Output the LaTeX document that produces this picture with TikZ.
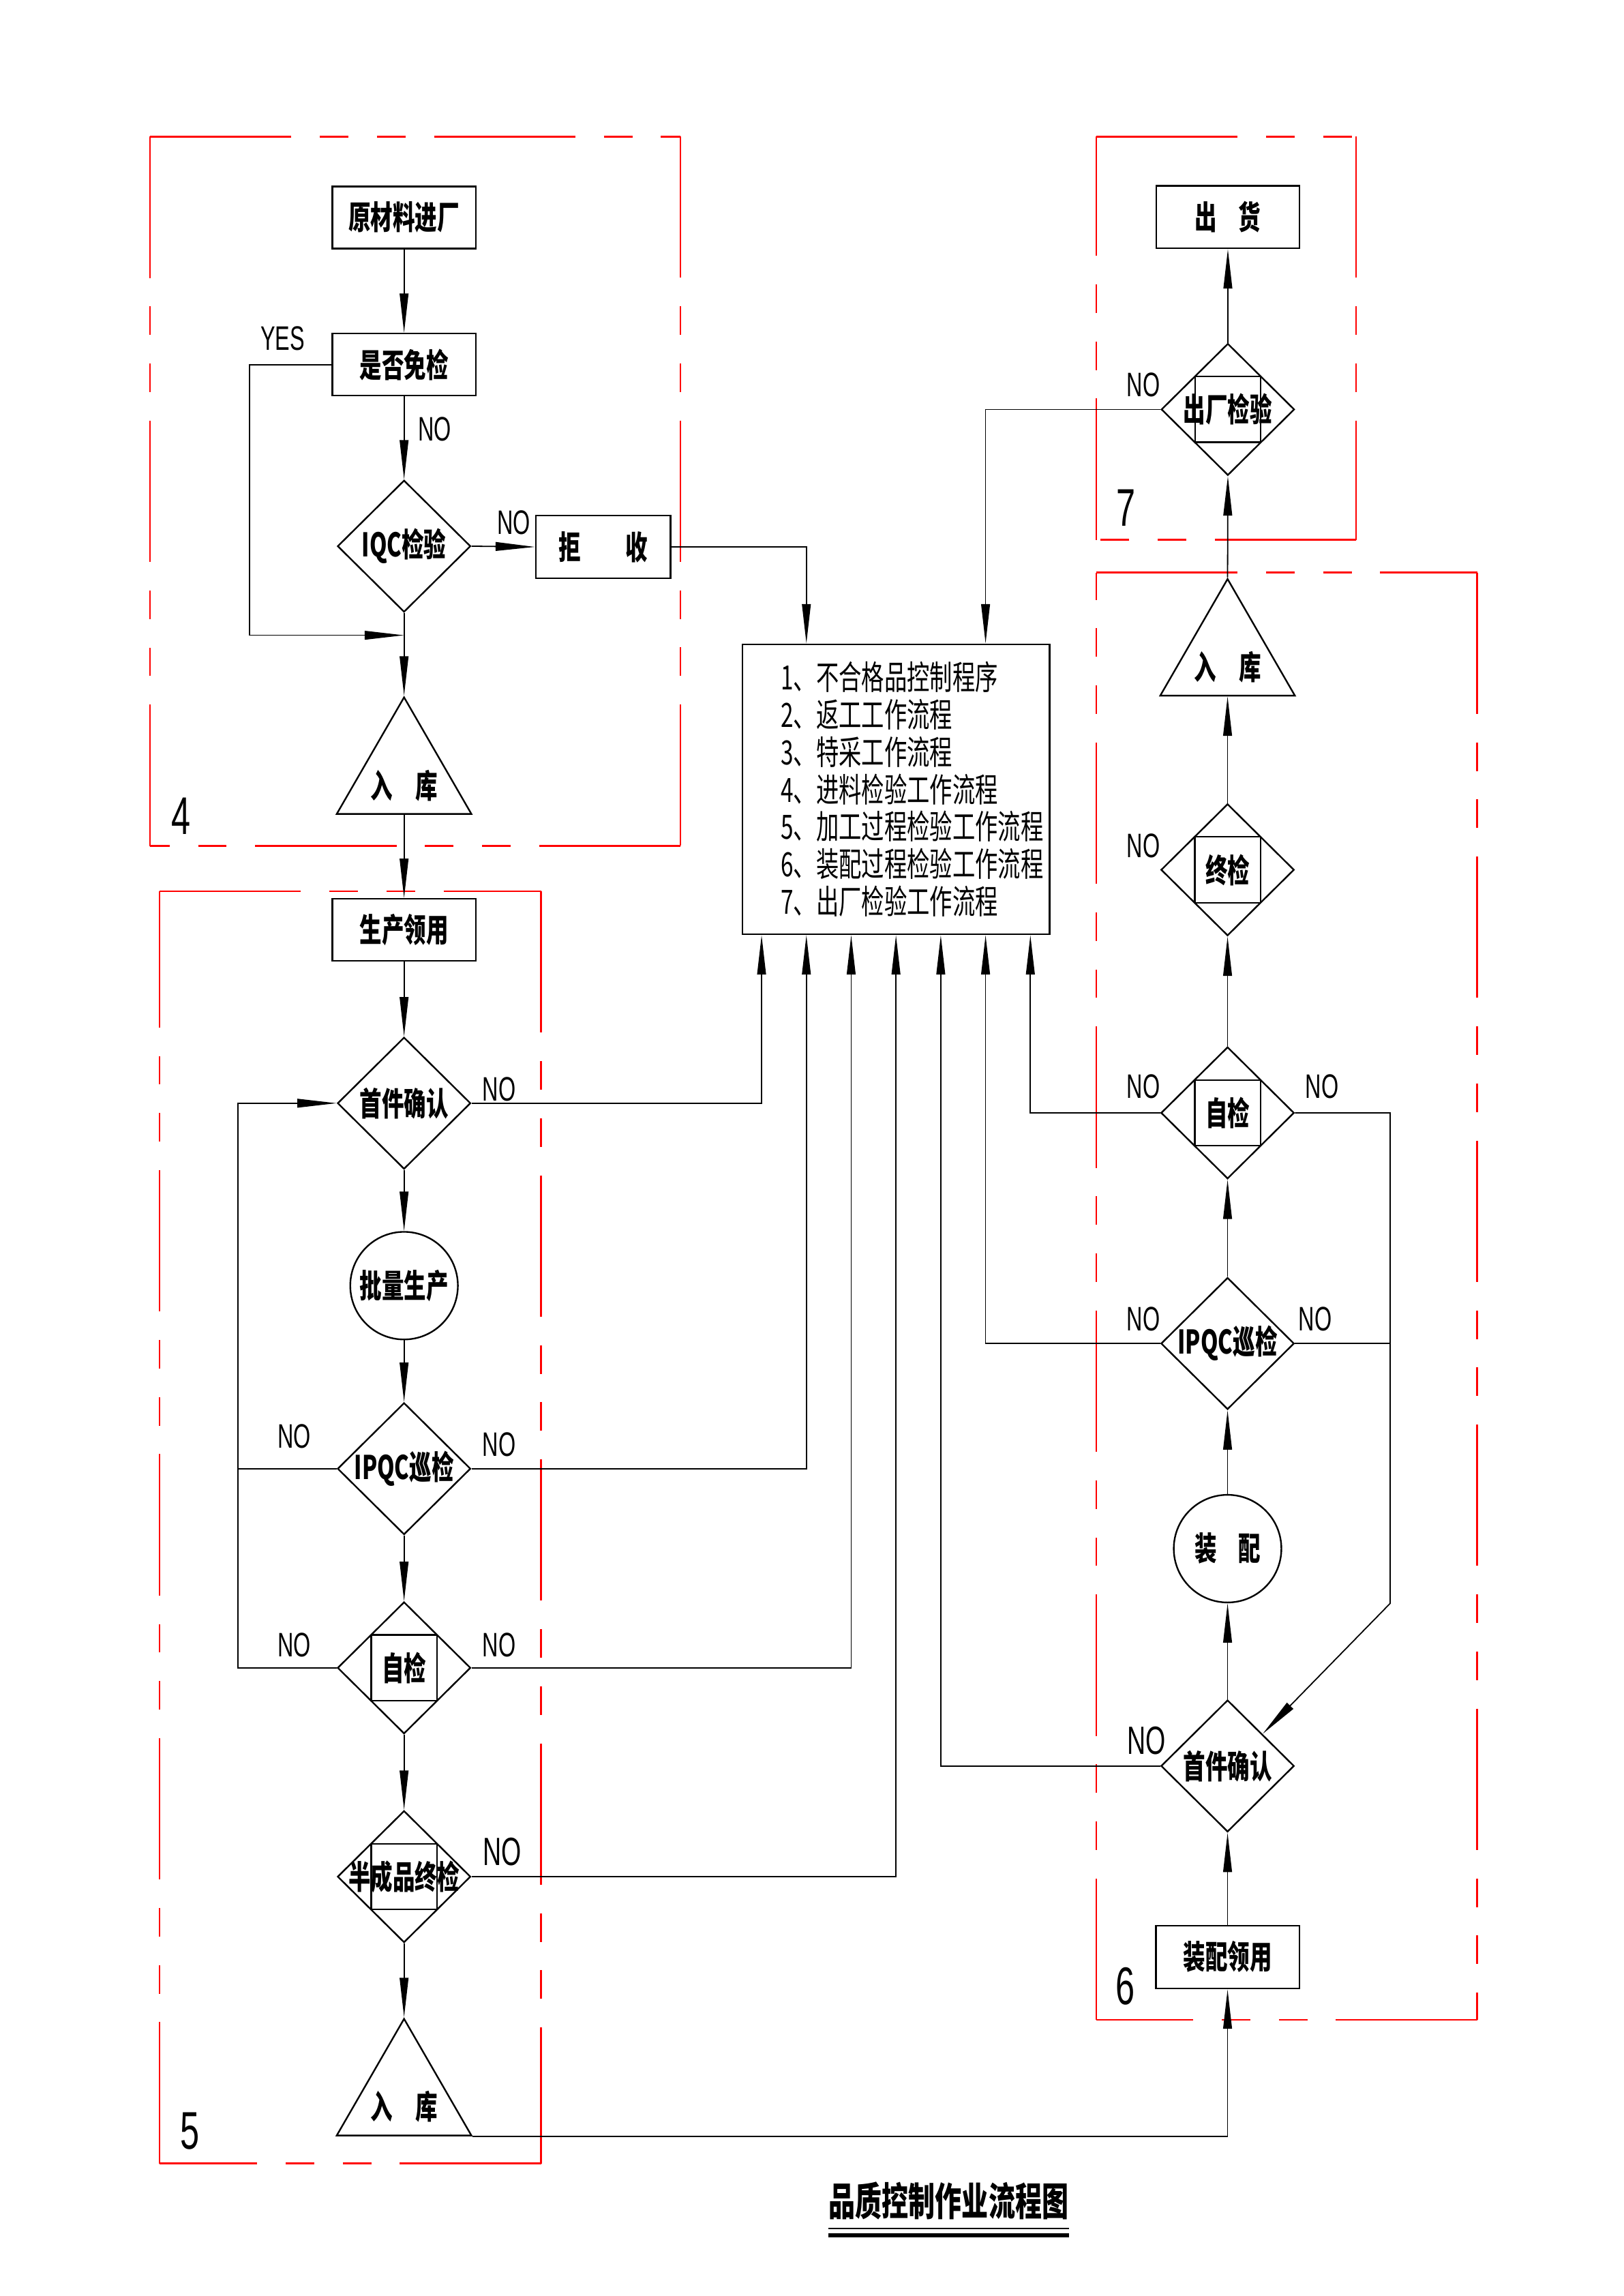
\documentclass[tikz,border=0pt]{standalone}
\usepackage{fontspec}
\setmainfont{Liberation Sans}[FakeStretch=0.65]
\newfontfamily\cjk{Noto Sans CJK SC}[FakeStretch=0.68]
\usepackage{tikz}
\usetikzlibrary{arrows.meta, shapes.geometric, calc}

\tikzset{
  procbox/.style={draw, line width=0.6pt, minimum width=52.8pt, minimum height=22.8pt,
    inner sep=0pt, font={\cjk\bfseries\fontsize{12}{14}\selectfont}},
  decision/.style={diamond, draw, line width=0.6pt, minimum width=49pt, minimum height=48.5pt,
    inner sep=0pt, label={[font={\cjk\bfseries\fontsize{12}{14}\selectfont}]center:#1}},
  checkdec/.style={decision=#1, path picture={
    \draw[line width=0.6pt] ([shift={(-12.1pt,-12.1pt)}]path picture bounding box.center)
      rectangle ([shift={(12.1pt,12.1pt)}]path picture bounding box.center);}},
  store/.style={regular polygon, regular polygon sides=3, draw, line width=0.6pt,
    minimum size=57.2pt, inner sep=0pt,
    label={[yshift=-3.8pt, font={\cjk\bfseries\fontsize{12}{14}\selectfont}]center:#1}},
  work/.style={circle, draw, line width=0.6pt, minimum size=39.6pt, inner sep=0pt,
    font={\cjk\bfseries\fontsize{12}{14}\selectfont}},
  grpbox/.style={red, line width=0.7pt,
    dash pattern=on 52pt off 10.5pt on 10.5pt off 10.5pt on 10.5pt off 10.5pt},
  grpnum/.style={inner sep=0pt, font=\fontsize{19.5}{22}\selectfont},
  nolab/.style={inner sep=0pt, font=\fontsize{12.5}{14}\selectfont},
  bignolab/.style={inner sep=0pt, font=\fontsize{14.5}{16}\selectfont},
  wire/.style={line width=0.45pt},
  arr/.style={line width=0.45pt, -{Triangle[length=14.5pt, width=3.2pt]}}
}

\begin{document}
\begin{tikzpicture}[x=0.018936cm, y=-0.018936cm]
  % 页面大小 (A4)
  \path[fill=white, use as bounding box] (0,0) rectangle (1109,1568);

  % 红色虚线分区框 (每条边单独起笔, 角上为实线)
  \draw[grpbox] (102.5,93.2) -- (464.8,93.2) (464.8,93.2) -- (464.8,577.7)
    (464.8,577.7) -- (102.5,577.7) (102.5,577.7) -- (102.5,93.2);
  \draw[grpbox] (109,608.7) -- (369.6,608.7) (369.6,608.7) -- (369.6,1477.5)
    (369.6,1477.5) -- (109,1477.5) (109,1477.5) -- (109,608.7);
  \draw[grpbox] (748.8,391) -- (1009,391) (1009,391) -- (1009,1379.4)
    (1009,1379.4) -- (748.8,1379.4) (748.8,1379.4) -- (748.8,391);
  \draw[grpbox] (748.8,93.2) -- (926.3,93.2) (926.3,93.2) -- (926.3,368.7)
    (926.3,368.7) -- (748.8,368.7) (748.8,368.7) -- (748.8,93.2);

  % 分区编号
  \node[grpnum] (num4) at (123.7,557.5) {4};
  \node[grpnum] (num5) at (129.5,1455.5) {5};
  \node[grpnum] (num6) at (768.8,1356.5) {6};
  \node[grpnum] (num7) at (769,347) {7};

  % 4 进料检验
  \node[procbox] (n1) at (276,148.5) {原材料进厂};
  \node[procbox] (n2) at (276,249) {是否免检};
  \node[decision=IQC检验] (d1) at (276,373) {};
  \node[procbox, minimum width=49.6pt, minimum height=23.2pt] (n3) at (412,373.5) {拒\hspace{16.6pt}收};
  \node[store=入\hspace{8.3pt}库] (t1) at (276,529.3) {};
  \coordinate (join1) at ($(d1.south)!0.27!(t1.corner 1)$);

  \node[nolab] (yes1) at (193,231) {YES};
  \node[nolab] (no1) at (297,293) {NO};
  \node[nolab] (no2) at (351,357) {NO};

  \draw[arr] (n1.south) -- (n2.north);
  \draw[arr] (n2.south) -- (d1.north);
  \draw[arr] (d1.east) -- (n3.west);
  \draw[arr] (n2.west) -- ++(-56,0) |- (join1);
  \draw[arr] (d1.south) -- (t1.corner 1);

  % 5 加工过程
  \node[procbox] (n4) at (276,635) {生产领用};
  \node[decision=首件确认] (d2) at (276,753.4) {};
  \node[work] (c1) at (276,878) {批量生产};
  \node[decision=IPQC巡检] (d3) at (276,1003) {};
  \node[checkdec=自检] (d4) at (276,1139) {};
  \node[checkdec=半成品终检] (d5) at (276,1281.6) {};
  \node[store=入\hspace{8.3pt}库] (t2) at (276,1431.8) {};

  \node[nolab] (no3) at (341,744) {NO};
  \node[nolab] (no4) at (201,980.7) {NO};
  \node[nolab] (no5) at (341,986.7) {NO};
  \node[nolab] (no6) at (201,1123.5) {NO};
  \node[nolab] (no7) at (341,1123.5) {NO};
  \node[bignolab] (no8) at (343,1264.5) {NO};

  % 不合格处理程序
  \node[draw, line width=0.6pt, minimum width=113.1pt, minimum height=106.7pt, inner sep=0pt] (proc) at (612,539) {};
  \node[anchor=west, align=left, inner sep=0pt, font={\cjk\fontsize{12.3}{13.74}\selectfont}] (plist) at (533,539)
    {1、不合格品控制程序\\2、返工工作流程\\3、特采工作流程\\4、进料检验工作流程\\5、加工过程检验工作流程\\6、装配过程检验工作流程\\7、出厂检验工作流程};

  % 6 装配过程
  \node[procbox, minimum height=23.2pt] (m2) at (838.5,1336.5) {装配领用};
  \node[decision=首件确认] (e5) at (838.5,1206) {};
  \node[work] (c2) at (838.5,1057.6) {装\hspace{8pt}配};
  \node[decision=IPQC巡检] (e4) at (838.5,917.5) {};
  \node[checkdec=自检] (e3) at (838.5,760) {};
  \node[checkdec=终检] (e2) at (838.5,594) {};
  \node[store=入\hspace{8.3pt}库] (t3) at (838.5,448.5) {};
  \coordinate (fcin) at ($(e5.north)!0.52!(e5.east)$);

  \node[bignolab] (no15) at (783,1188.6) {NO};
  \node[nolab] (no13) at (781,900.8) {NO};
  \node[nolab] (no14) at (898.4,900.8) {NO};
  \node[nolab] (no11) at (781,742) {NO};
  \node[nolab] (no12) at (903,742) {NO};
  \node[nolab] (no10) at (781,577.4) {NO};

  % 7 出厂检验
  \node[checkdec=出厂检验] (e1) at (838.7,279.6) {};
  \node[procbox, minimum height=23pt] (m1) at (838.7,148.2) {出\hspace{8pt}货};
  \node[nolab] (no9) at (781,263) {NO};

  % 主流程连线
  \draw[arr] (t1.side 2) -- (n4.north);
  \draw[arr] (n4.south) -- (d2.north);
  \draw[arr] (d2.south) -- (c1.north);
  \draw[arr] (c1.south) -- (d3.north);
  \draw[arr] (d3.south) -- (d4.north);
  \draw[arr] (d4.south) -- (d5.north);
  \draw[arr] (d5.south) -- (t2.corner 1);
  \draw[arr] (t2.corner 3) -| (m2.south);
  \draw[arr] (m2.north) -- (e5.south);
  \draw[arr] (e5.north) -- (c2.south);
  \draw[arr] (c2.north) -- (e4.south);
  \draw[arr] (e4.north) -- (e3.south);
  \draw[arr] (e3.north) -- (e2.south);
  \draw[arr] (e2.north) -- (t3.side 2);
  \draw[arr] (t3.corner 1) -- (e1.south);
  \draw[arr] (e1.north) -- (m1.south);

  % 返回首件确认
  \draw[arr] (d4.west) -- ++(-67.5,0) |- (d2.west);
  \draw[wire] (d3.west) -- ++(-67.5,0);
  \draw[arr] (e3.east) -- ++(65,0) -- ++(0,335) -- (fcin);
  \draw[wire] (e4.east) -- ++(65,0);

  % 不合格 -> 处理程序
  \draw[arr] (n3.east) -| ($(proc.north west)!0.21!(proc.north east)$);
  \draw[arr] (e1.west) -| ($(proc.north west)!0.79!(proc.north east)$);
  \draw[arr] (d2.east) -| ($(proc.south west)!0.065!(proc.south east)$);
  \draw[arr] (d3.east) -| ($(proc.south west)!0.21!(proc.south east)$);
  \draw[arr] (d4.east) -| ($(proc.south west)!0.355!(proc.south east)$);
  \draw[arr] (d5.east) -| ($(proc.south west)!0.5!(proc.south east)$);
  \draw[arr] (e5.west) -| ($(proc.south west)!0.645!(proc.south east)$);
  \draw[arr] (e4.west) -| ($(proc.south west)!0.79!(proc.south east)$);
  \draw[arr] (e3.west) -| ($(proc.south west)!0.935!(proc.south east)$);

  % 标题
  \node[inner sep=0pt, font={\cjk\bfseries\fontsize{14.4}{17}\selectfont}] (ttl) at (648,1502.8) {品质控制作业流程图};
  \draw[line width=0.5pt] ([yshift=-3.2pt]ttl.south west) -- ([yshift=-3.2pt]ttl.south east);
  \draw[line width=1.5pt] ([yshift=-5.6pt]ttl.south west) -- ([yshift=-5.6pt]ttl.south east);
\end{tikzpicture}
\end{document}
